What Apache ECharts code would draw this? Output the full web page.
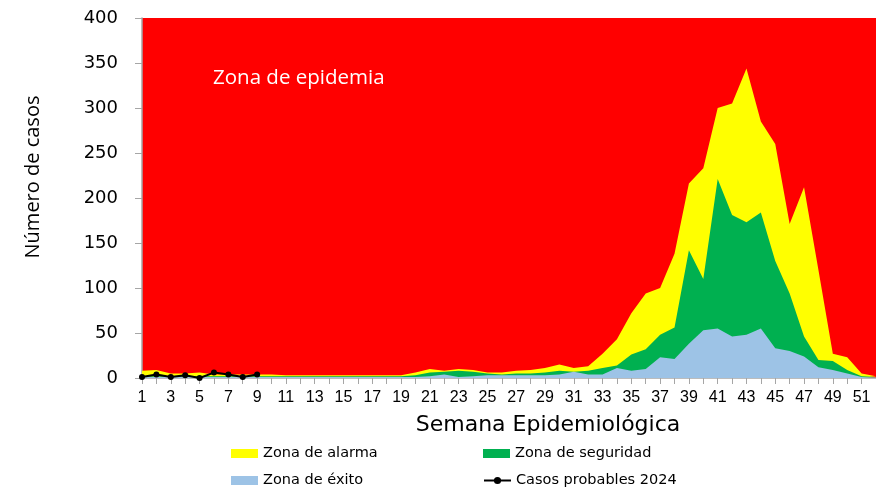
<!DOCTYPE html>
<html>
<head>
<meta charset="utf-8">
<script src="https://cdn.jsdelivr.net/npm/echarts@6/dist/echarts.min.js"></script>
<style>html,body{margin:0;padding:0;background:#fff}#c{width:876px;height:487px}</style>
</head>
<body>
<div id="c"></div>
<script>
const weeks = Array.from({length: 52}, (_, i) => String(i + 1));
const zonaAlarma = [8,9,5,5,6,4,4,4,4,4,3,3,3,3,3,3,3,3,3,6,10,8,10,9,6,6,8,9,11,15,11,13,27,43,72,94,100,138,216,233,300,305,344,285,260,171,212,120,27,23,5,2];
const zonaSeguridad = [2,2,2,2,2,2,2,2,2,2,2,2,2,2,2,2,2,2,2,3,6,7,8,7,5,4,5,5,6,8,7,8,11,14,26,32,48,56,142,110,221,181,173,184,130,94,46,20,19,9,2,1];
const zonaExito = [1,1,1,1,1,1,1,1,1,1,1,1,1,1,1,1,1,1,1,1,2,4,1,2,3,3,3,3,3,4,7,4,4,11,8,10,23,21,38,53,55,46,48,55,33,30,24,12,9,5,1,1];
const casos2024 = [1,4,1,3,0,6,4,1,4];
const yTicks = [0,50,100,150,200,250,300,350,400];

const chart = echarts.init(document.getElementById('c'), null, {renderer: 'canvas'});
const legendText = {fontFamily: 'DejaVu Sans', fontSize: 14.5, color: '#000'};
function lg(name, left, top, icon) {
  const d = {name: name};
  if (icon) d.icon = icon;
  return {data: [d], left: left, top: top, padding: 0, itemWidth: 27, itemHeight: 9,
    itemGap: 0, textStyle: legendText, selectedMode: false};
}
chart.setOption({
  animation: false,
  backgroundColor: '#fff',
  grid: {left: 142, right: 0, top: 18, bottom: 109, show: true, backgroundColor: '#FF0000', borderWidth: 0},
  legend: [
    lg('Zona de alarma', 231, 446, 'rect'),
    lg('Zona de seguridad', 483, 446, 'rect'),
    lg('Zona de éxito', 231, 473, 'rect'),
    lg('Casos probables 2024', 483, 473)
  ],
  xAxis: {
    type: 'category', data: weeks, boundaryGap: false,
    axisLine: {lineStyle: {color: '#A6A6A6', width: 1.5}},
    axisTick: {show: true, interval: 0, length: 6, lineStyle: {color: '#A6A6A6'}},
    axisLabel: {interval: 1, margin: 12, fontFamily: 'Liberation Sans', fontSize: 16, color: '#000'},
    splitLine: {show: false}
  },
  yAxis: {
    type: 'value', min: yTicks[0], max: yTicks[yTicks.length - 1], interval: 50,
    axisLine: {show: true, lineStyle: {color: '#A6A6A6', width: 1.5}},
    axisTick: {show: true, length: 7, lineStyle: {color: '#A6A6A6'}},
    axisLabel: {margin: 24, fontFamily: 'DejaVu Sans', fontSize: 18, color: '#000'},
    splitLine: {show: false}
  },
  graphic: [
    {type: 'text', left: 213, top: 68, style: {text: 'Zona de epidemia', fill: '#fff', font: '20.5px "Open Sans"'}},
    {type: 'text', x: 548, y: 425, style: {text: 'Semana Epidemiológica', fill: '#000', font: '22px "DejaVu Sans"', textAlign: 'center', textVerticalAlign: 'middle'}},
    {type: 'text', x: 33, y: 177, rotation: Math.PI / 2, style: {text: 'Número de casos', fill: '#000', font: '20px "Open Sans"', textAlign: 'center', textVerticalAlign: 'middle'}}
  ],
  series: [
    {name: 'Zona de alarma', type: 'line', data: zonaAlarma, symbol: 'none', lineStyle: {width: 0}, itemStyle: {color: '#FFFF00'}, areaStyle: {color: '#FFFF00', opacity: 1}, z: 2},
    {name: 'Zona de seguridad', type: 'line', data: zonaSeguridad, symbol: 'none', lineStyle: {width: 0}, itemStyle: {color: '#00B050'}, areaStyle: {color: '#00B050', opacity: 1}, z: 3},
    {name: 'Zona de éxito', type: 'line', data: zonaExito, symbol: 'none', lineStyle: {width: 0}, itemStyle: {color: '#9DC3E6'}, areaStyle: {color: '#9DC3E6', opacity: 1}, z: 4},
    {name: 'Casos probables 2024', type: 'line', data: casos2024, symbol: 'circle', symbolSize: 6, showSymbol: true, lineStyle: {width: 2, color: '#000'}, itemStyle: {color: '#000'}, z: 5}
  ]
});
</script>
</body>
</html>
